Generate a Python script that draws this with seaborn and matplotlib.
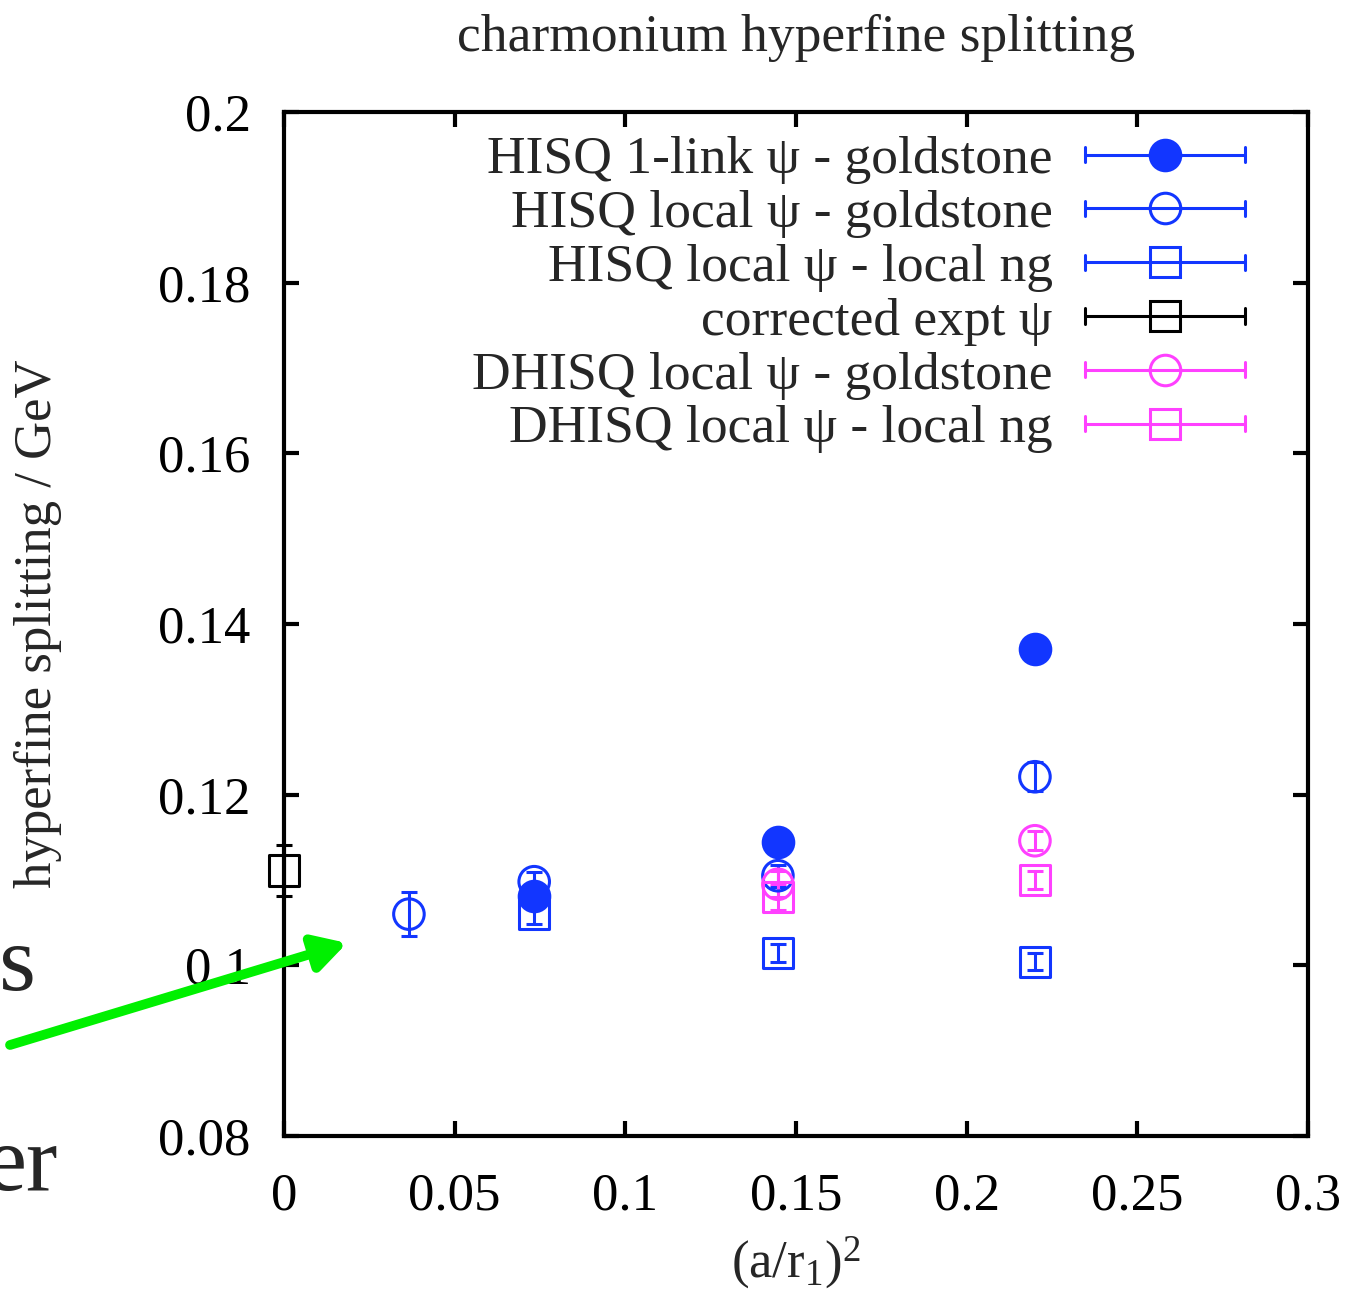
import numpy as np
import pandas as pd
import matplotlib
matplotlib.use("Agg")
import matplotlib.pyplot as plt
import seaborn as sns
from matplotlib.lines import Line2D
from matplotlib.legend_handler import HandlerBase

# ---------------- data ----------------
x_hisq1_gs = [0.0733, 0.1447, 0.2200]
y_hisq1_gs = [0.1081, 0.1145, 0.1371]
e_hisq1_gs = [0.0008, 0.0008, 0.0008]

x_hisql_gs = [0.0366, 0.0733, 0.1447, 0.2200]
y_hisql_gs = [0.1060, 0.1098, 0.1105, 0.1221]
e_hisql_gs = [0.0026, 0.0011, 0.0013, 0.0017]

x_hisql_ng = [0.0733, 0.1447, 0.2200]
y_hisql_ng = [0.1061, 0.10145, 0.1004]
e_hisql_ng = [0.0013, 0.0011, 0.0010]

x_expt = [0.0]
y_expt = [0.1111]
e_expt = [0.0030]

x_dhisq_gs = [0.1447, 0.2200]
y_dhisq_gs = [0.1095, 0.1146]
e_dhisq_gs = [0.0015, 0.0011]

x_dhisq_ng = [0.1447, 0.2200]
y_dhisq_ng = [0.1080, 0.1100]
e_dhisq_ng = [0.0015, 0.0011]

labels = [
    "HISQ 1-link ψ - goldstone",
    "HISQ local ψ - goldstone",
    "HISQ local ψ - local ng",
    "corrected expt ψ",
    "DHISQ local ψ - goldstone",
    "DHISQ local ψ - local ng",
]
xticks = [0, 0.05, 0.1, 0.15, 0.2, 0.25, 0.3]
xtick_labels = ["0", "0.05", "0.1", "0.15", "0.2", "0.25", "0.3"]
yticks = [0.08, 0.1, 0.12, 0.14, 0.16, 0.18, 0.2]
ytick_labels = ["0.08", "0.1", "0.12", "0.14", "0.16", "0.18", "0.2"]

# ---------------- style ----------------
sns.set_theme(style="ticks")
SERIF = ["Liberation Serif", "DejaVu Serif"]
plt.rcParams["font.family"] = SERIF
plt.rcParams["mathtext.fontset"] = "custom"
plt.rcParams["mathtext.rm"] = "Liberation Serif"
plt.rcParams["mathtext.it"] = "Liberation Serif:italic"

BLUE = "#1236ff"
MAG = "#ff40ff"
BLACK = "#000000"

series = [
    (x_hisq1_gs, y_hisq1_gs, e_hisq1_gs, BLUE, "o", True),
    (x_hisql_gs, y_hisql_gs, e_hisql_gs, BLUE, "o", False),
    (x_hisql_ng, y_hisql_ng, e_hisql_ng, BLUE, "s", False),
    (x_expt, y_expt, e_expt, BLACK, "s", False),
    (x_dhisq_gs, y_dhisq_gs, e_dhisq_gs, MAG, "o", False),
    (x_dhisq_ng, y_dhisq_ng, e_dhisq_ng, MAG, "s", False),
]

W, H = 1352, 1302
fig = plt.figure(figsize=(W / 100, H / 100), dpi=100)
ax = fig.add_axes([284 / W, 1 - 1136 / H, (1308 - 284) / W, (1136 - 112) / H])

MS = {"o": 22, "s": 22}
handles = []
for (xs, ys, es, col, mk, filled), lab in zip(series, labels):
    df = pd.DataFrame({"x": xs, "y": ys, "e": es})
    _, caps, bars = ax.errorbar(df["x"], df["y"], yerr=df["e"], fmt="none",
                                ecolor=col, elinewidth=2.2, capsize=6,
                                capthick=2.2, zorder=3)
    for c in caps:
        c.set_clip_on(False)
    for b in bars:
        b.set_clip_on(False)
    sns.scatterplot(data=df, x="x", y="y", ax=ax, marker=mk,
                    s=MS[mk] ** 2, color=col if filled else "none",
                    edgecolor=col, linewidth=2.2, zorder=4, legend=False,
                    clip_on=False)
    handles.append(Line2D([], [], color=col, marker=mk, markersize=MS[mk],
                          markerfacecolor=col if filled else "none",
                          markeredgecolor=col, markeredgewidth=2.2, lw=2.2))


class ErrHandler(HandlerBase):
    def create_artists(self, legend, orig, xdescent, ydescent, width, height,
                       fontsize, trans):
        col = orig.get_color()
        y = height / 2 - ydescent
        x0 = -xdescent
        x1 = x0 + width
        xc = (x0 + x1) / 2
        ch = 5.5
        arts = [
            Line2D([x0, x1], [y, y], color=col, lw=2.2),
            Line2D([x0, x0], [y - ch, y + ch], color=col, lw=2.2),
            Line2D([x1, x1], [y - ch, y + ch], color=col, lw=2.2),
            Line2D([xc], [y], marker=orig.get_marker(),
                   markersize=orig.get_markersize(),
                   markerfacecolor=orig.get_markerfacecolor(),
                   markeredgecolor=orig.get_markeredgecolor(),
                   markeredgewidth=orig.get_markeredgewidth(), lw=0),
        ]
        for a in arts:
            a.set_transform(trans)
        return arts


leg = ax.legend(handles, labels, loc="upper right", markerfirst=False,
                frameon=False, fontsize=38.5, handlelength=3.0,
                handletextpad=0.6, labelspacing=0.10, borderpad=0,
                borderaxespad=0, bbox_to_anchor=(1 - 63 / 1024, 1 - 24 / 1024),
                handler_map={Line2D: ErrHandler()})

ax.set_xlim(0, 0.3)
ax.set_ylim(0.08, 0.2)
ax.set_xticks(xticks)
ax.set_xticklabels(xtick_labels)
ax.set_yticks(yticks)
ax.set_yticklabels(ytick_labels)
ax.tick_params(axis="both", which="both", direction="in", length=11, width=3,
               labelsize=38, top=True, right=True, color="black",
               labelcolor="black")
ax.tick_params(axis="x", pad=26)
ax.tick_params(axis="y", pad=24)
for sp in ax.spines.values():
    sp.set_linewidth(3)
    sp.set_color("black")
    sp.set_visible(True)

ax.set_xlabel(r"(a/r$_1$)$^2$", fontsize=38, labelpad=10)
ax.set_ylabel("hyperfine splitting / GeV", fontsize=38, labelpad=0)
ax.yaxis.set_label_coords(-222 / 1024, 0.5)
ax.set_title("charmonium hyperfine splitting", fontsize=38.5, pad=44)

# cut-off slide text and green arrow
fig.text(36 / W, 1 - 990 / H, "ts", fontsize=68, ha="right", va="baseline",
         family=SERIF)
fig.text(58 / W, 1 - 1190 / H, "er", fontsize=68, ha="right", va="baseline",
         family=SERIF)
ax.annotate("", xy=(347 / W, 1 - 943 / H), xycoords="figure fraction",
            xytext=(10 / W, 1 - 1045 / H), textcoords="figure fraction",
            arrowprops=dict(arrowstyle="-|>,head_length=1.6,head_width=0.9",
                            color="#00f000", lw=7, shrinkA=0, shrinkB=0),
            annotation_clip=False, zorder=10)

fig.savefig("out.png", dpi=100, facecolor="white")
